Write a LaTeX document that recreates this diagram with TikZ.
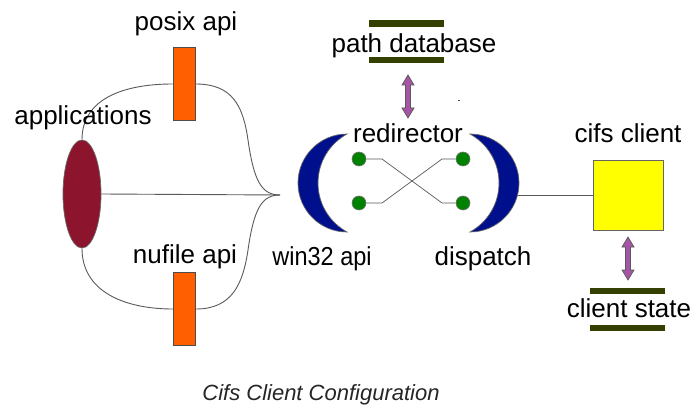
\documentclass[tikz,border=0pt]{standalone}
\usepackage{fontspec}
\setmainfont{Liberation Sans}
\usetikzlibrary{shapes.geometric,calc}

\definecolor{appred}{RGB}{140,20,45}
\definecolor{apiorange}{RGB}{255,95,0}
\definecolor{barolive}{RGB}{51,64,0}
\definecolor{navyblue}{RGB}{0,16,140}
\definecolor{pingreen}{RGB}{0,130,0}
\definecolor{linkpurple}{RGB}{165,85,165}
\definecolor{clientyellow}{RGB}{255,255,0}
\definecolor{wiregray}{RGB}{90,90,90}

\begin{document}
\begin{tikzpicture}[x=1pt,y=-1pt,
  lbl/.style={font=\fontsize{26}{30}\selectfont, anchor=base, inner sep=0pt},
  wire/.style={draw=wiregray, line width=0.9pt},
  apibox/.style={rectangle, draw=black!70, line width=0.9pt, fill=apiorange,
                 minimum width=22pt, minimum height=73pt, inner sep=0pt},
  bar/.style={rectangle, fill=barolive, minimum width=75pt, minimum height=6.5pt, inner sep=0pt},
  pin/.style={circle, draw=black!55, line width=0.6pt, fill=pingreen, minimum size=14pt, inner sep=0pt},
  crescent/.style={fill=navyblue, draw=black!60, line width=0.7pt},
  link/.style={fill=linkpurple, draw=black!65, line width=0.7pt}
]
\useasboundingbox (0,0) rectangle (693,406);
\fill[white] (0,0) rectangle (693,406);

% ---- applications and the two api boxes ----
\node[ellipse, draw=black!60, line width=0.7pt, fill=appred,
      minimum width=38pt, minimum height=108pt, inner sep=0pt] (app) at (82,194) {};
\node[apibox] (posix)  at (184,84)  {};
\node[apibox] (nufile) at (184.5,309) {};
\coordinate (tip) at (280,195);

\draw[wire] (app.north) .. controls (82,98) and (125,84) .. (posix.west);
\draw[wire] (posix.east) .. controls (232,84) and (243,105) .. (248,140)
            .. controls (254,182) and (262,195) .. (tip);
\draw[wire] (app.south) .. controls (82,292) and (125,309) .. (nufile.west);
\draw[wire] (nufile.east) .. controls (232,309) and (243,284) .. (248,250)
            .. controls (254,208) and (262,195) .. (tip);
\draw[wire] (app.east) -- (tip);
% redraw the api boxes over the wires
\node[apibox] at (posix) {};
\node[apibox] at (nufile) {};

\node[lbl] (appl)   at (83,125)  {applications};
\node[lbl] (posixl) at (186,31)  {posix api};
\node[lbl] (nufl)   at (185,263) {nufile api};

% ---- redirector: two crescents with crossed pins ----
\coordinate (lt) at (347,134);
\coordinate (lb) at (347,232);
\coordinate (rt) at (470,134);
\coordinate (rb) at (470,232);
\fill[crescent] (lt) .. controls (320,134) and (298,156) .. (298,183)
                     .. controls (298,210) and (320,232) .. (lb)
                     .. controls (329,222) and (318,203.5) .. (318,183)
                     .. controls (318,162.5) and (329,144) .. (lt) -- cycle;
\fill[crescent] (rt) .. controls (497,134) and (519,156) .. (519,183)
                     .. controls (519,210) and (497,232) .. (rb)
                     .. controls (488,222) and (499,203.5) .. (499,183)
                     .. controls (499,162.5) and (488,144) .. (rt) -- cycle;
\coordinate (rout) at (518,195);

\node[pin] (p1) at (359,159) {};
\node[pin] (p2) at (359,203) {};
\node[pin] (p3) at (463,159) {};
\node[pin] (p4) at (463,203) {};
\draw[wire, line width=0.7pt] (p1.east) -- (382,159) -- (442,203) -- (p4.west);
\draw[wire, line width=0.7pt] (p2.east) -- (382,203) -- (442,159) -- (p3.west);

\node[lbl] (redl)  at (408,143) {redirector};
\node[lbl] (w32l)  at (322,265) {\scalebox{0.905}[1]{win32 api}};
\node[lbl] (displ) at (483,265) {dispatch};

% ---- path database ----
\node[bar] (dbtop) at (406.5,23.5) {};
\node[bar] (dbbot) at (406.5,60)   {};
\node[lbl] (dbl)   at (414,53) {path database};
\coordinate (dbA) at (408,75);
\coordinate (dbB) at (408,118);
\filldraw[link] (dbA) -- ($(dbA)+(6,10)$) -- ($(dbA)+(2.5,10)$) -- ($(dbB)+(2.5,-10)$)
  -- ($(dbB)+(6,-10)$) -- (dbB) -- ($(dbB)+(-6,-10)$) -- ($(dbB)+(-2.5,-10)$)
  -- ($(dbA)+(-2.5,10)$) -- ($(dbA)+(-6,10)$) -- cycle;
\coordinate (speck) at (458,100);
\draw[black!70, line width=0.6pt] (speck) -- ++(1.5,0);

% ---- cifs client ----
\node[rectangle, draw=black!60, line width=0.9pt, fill=clientyellow,
      minimum width=70pt, minimum height=70pt, inner sep=0pt] (cifs) at (628,195) {};
\draw[wire] (rout) -- (cifs.west);
\node[lbl] (cifsl) at (628,143) {cifs client};

\coordinate (csA) at (628,237);
\coordinate (csB) at (628,280);
\filldraw[link] (csA) -- ($(csA)+(6,10)$) -- ($(csA)+(2.5,10)$) -- ($(csB)+(2.5,-10)$)
  -- ($(csB)+(6,-10)$) -- (csB) -- ($(csB)+(-6,-10)$) -- ($(csB)+(-2.5,-10)$)
  -- ($(csA)+(-2.5,10)$) -- ($(csA)+(-6,10)$) -- cycle;
\node[bar] (cstop) at (627.5,291) {};
\node[bar] (csbot) at (627.5,328) {};
\node[lbl] (csl)   at (629,317) {client state};

% ---- caption ----
\node[lbl, font=\fontsize{22}{26}\selectfont\itshape, text=black!85] (cap) at (321,400)
  {Cifs Client Configuration};
\end{tikzpicture}
\end{document}
